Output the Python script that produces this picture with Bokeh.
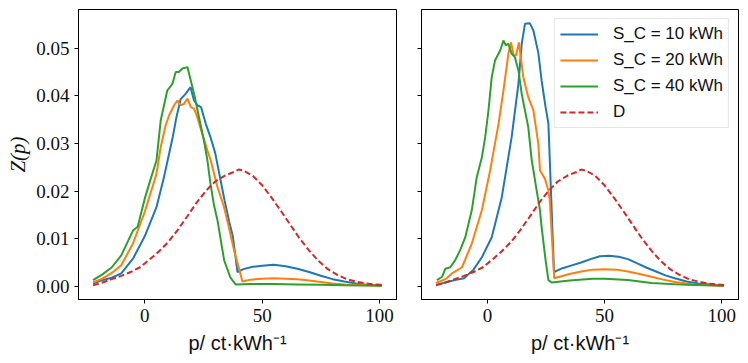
from bokeh.plotting import figure
from bokeh.layouts import row
from bokeh.models import (Range1d, FixedTicker, PrintfTickFormatter,
                          CustomJSTickFormatter, Legend, LegendItem)
from bokeh.embed import file_html
from bokeh.resources import INLINE

# ---------------- data ----------------
series_labels = ["S_C = 10 kWh", "S_C = 20 kWh", "S_C = 40 kWh", "D"]
x_ticks = [0, 50, 100]
y_ticks = [0.0, 0.01, 0.02, 0.03, 0.04, 0.05]

# reference distribution D (same in both panels)
d_x = [-22, -18, -14, -10, -6, -2, 2, 6, 10, 14, 18, 22, 26, 30, 34, 38, 40,
       42, 46, 50, 54, 58, 62, 66, 70, 74, 78, 82, 86, 90, 94, 98, 101]
d_y = [0.0002, 0.0008, 0.0015, 0.0022, 0.0030, 0.0040, 0.0056, 0.0073, 0.0093,
       0.0118, 0.0146, 0.0175, 0.0200, 0.0220, 0.0232, 0.0240, 0.0245, 0.0243,
       0.0232, 0.0212, 0.0186, 0.0158, 0.0129, 0.0100, 0.0075, 0.0053, 0.0036,
       0.0024, 0.0015, 0.0010, 0.0006, 0.0004, 0.0003]

# left panel
left10_x = [-22, -18, -14, -10, -5, 0, 5, 8, 10, 12, 13.5, 15.3, 17.4, 19.5, 21,
            22.5, 24, 26, 28, 30, 32, 34, 36, 37.5, 39.5, 42, 46, 50, 55, 60, 65,
            70, 75, 80, 85, 90, 95, 101]
left10_y = [0.0006, 0.0013, 0.0018, 0.0027, 0.0058, 0.0105, 0.0166, 0.0225,
            0.0270, 0.0315, 0.0355, 0.0393, 0.0404, 0.0418, 0.0390, 0.0380,
            0.0376, 0.0341, 0.0313, 0.0280, 0.0230, 0.0180, 0.0135, 0.0105,
            0.0030, 0.0036, 0.0041, 0.0043, 0.0045, 0.0042, 0.0037, 0.0030,
            0.0022, 0.0015, 0.0010, 0.0006, 0.0003, 0.0002]

left20_x = [-22, -18, -14, -10, -5, 0, 5, 6.8, 8.9, 10.4, 12.5, 13.9, 15.3, 16.7,
            18.2, 19.6, 21, 22.4, 24.5, 26.7, 28.1, 31, 33.8, 36, 38, 41.6, 45,
            50, 55, 60, 65, 70, 75, 80, 85, 90, 95, 101]
left20_y = [0.0008, 0.0016, 0.0028, 0.0044, 0.0090, 0.0156, 0.0236, 0.0292,
            0.0338, 0.0359, 0.0380, 0.0390, 0.0380, 0.0383, 0.0394, 0.0376,
            0.0373, 0.0355, 0.0320, 0.0285, 0.0264, 0.0208, 0.0166, 0.0120,
            0.0076, 0.0010, 0.0014, 0.0016, 0.0017, 0.0016, 0.0015, 0.0012,
            0.0009, 0.0006, 0.0004, 0.0003, 0.0002, 0.0001]

left40_x = [-22, -18, -14, -10, -5, -3, 0, 2.5, 5, 6.8, 9.6, 11.8, 13.2, 14.5,
            16, 18.2, 19.6, 21, 23.1, 25.2, 26.7, 28, 29.5, 31, 33.8, 36.5, 38.7,
            45, 55, 65, 75, 85, 101]
left40_y = [0.0013, 0.0025, 0.0040, 0.0065, 0.0117, 0.0125, 0.0184, 0.0225,
            0.0264, 0.0348, 0.0411, 0.0425, 0.0450, 0.0450, 0.0457, 0.0460,
            0.0432, 0.0404, 0.0355, 0.0306, 0.0264, 0.0215, 0.0170, 0.0138,
            0.0055, 0.0018, 0.0004, 0.0005, 0.0005, 0.0004, 0.0003, 0.0002,
            0.0001]

# right panel
right10_x = [-22, -18, -14, -10, -6, -2.4, 1.8, 6.1, 10.3, 13.2, 14.6, 16, 18.1,
             19.6, 21.7, 23.1, 24.8, 26, 28.4, 32, 36, 40, 44, 48, 52, 56, 60,
             64, 68, 72, 76, 80, 85, 90, 95, 101]
right10_y = [0.0003, 0.0008, 0.0013, 0.0017, 0.0035, 0.0061, 0.0103, 0.0187,
             0.0313, 0.0425, 0.0509, 0.0551, 0.0552, 0.0537, 0.0490, 0.0432,
             0.0376, 0.0342, 0.0030, 0.0038, 0.0044, 0.0050, 0.0057, 0.0063,
             0.0064, 0.0062, 0.0057, 0.0048, 0.0039, 0.0031, 0.0023, 0.0017,
             0.0010, 0.0006, 0.0004, 0.0001]

right20_x = [-22, -18, -15.2, -10.9, -6.7, -2.4, 1.1, 4.7, 6.8, 8.9, 10, 11.2,
             12.2, 13.4, 15.3, 17.4, 19.6, 21.7, 22.4, 24.5, 26, 26.6, 28.5, 35,
             40, 45, 50, 55, 60, 65, 70, 75, 80, 85, 90, 95, 101]
right20_y = [0.0007, 0.0015, 0.0027, 0.0040, 0.0090, 0.0160, 0.0243, 0.0341,
             0.0411, 0.0488, 0.0512, 0.0485, 0.0485, 0.0512, 0.0439, 0.0397,
             0.0369, 0.0299, 0.0243, 0.0226, 0.0201, 0.0180, 0.0017, 0.0026,
             0.0031, 0.0035, 0.0036, 0.0035, 0.0031, 0.0026, 0.0020, 0.0014,
             0.0009, 0.0006, 0.0003, 0.0002, 0.0001]

right40_x = [-21.6, -19.4, -18, -15.9, -13.8, -11.7, -9.5, -6.7, -4.6, -2.4, -1,
             0.4, 1.8, 3.2, 5.4, 6.8, 7.8, 8.9, 10.3, 11.7, 13.2, 14.6, 16, 17.4,
             18.9, 21, 22.4, 23.1, 24.8, 26, 27.4, 35, 45, 50, 60, 70, 85, 101]
right40_y = [0.0013, 0.0020, 0.0037, 0.0040, 0.0055, 0.0076, 0.0103, 0.0160,
             0.0229, 0.0271, 0.0313, 0.0369, 0.0439, 0.0474, 0.0495, 0.0516,
             0.0506, 0.0509, 0.0488, 0.0481, 0.0453, 0.0404, 0.0369, 0.0334,
             0.0264, 0.0201, 0.0160, 0.0124, 0.0055, 0.0013, 0.0008, 0.0012,
             0.0016, 0.0016, 0.0013, 0.0007, 0.0003, 0.0001]

colors = ["#1f77b4", "#ff7f0e", "#2ca02c", "#d62728"]

SERIF = "Liberation Serif"
SANS = "Liberation Sans"
TEXT = "#111111"


def style(p):
    p.outline_line_color = "black"
    p.outline_line_width = 1
    p.outline_line_alpha = 1
    p.grid.visible = False
    p.background_fill_color = "white"
    p.border_fill_color = "white"
    for ax in (p.xaxis[0], p.yaxis[0]):
        ax.axis_line_color = "black"
        ax.axis_line_width = 1
        ax.major_tick_line_color = "black"
        ax.major_tick_out = 4
        ax.major_tick_in = 0
        ax.minor_tick_out = 0
        ax.minor_tick_in = 0
        ax.major_label_text_font = SERIF
        ax.major_label_text_font_size = "19px"
        ax.major_label_text_color = TEXT
        ax.major_label_standoff = 5
    p.xaxis[0].ticker = FixedTicker(ticks=x_ticks)
    p.yaxis[0].ticker = FixedTicker(ticks=y_ticks)
    p.xaxis[0].axis_label = "p/ ct\u00b7kWh\u207b\u00b9"
    p.xaxis[0].axis_label_text_font = SANS
    p.xaxis[0].axis_label_text_font_style = "normal"
    p.xaxis[0].axis_label_text_font_size = "20px"
    p.xaxis[0].axis_label_text_color = TEXT
    p.xaxis[0].axis_label_standoff = 7


y_shared = Range1d(-0.00277, 0.0581)

p1 = figure(frame_width=318, frame_height=290, output_backend="svg",
            toolbar_location=None, x_range=Range1d(-28.2, 107.2),
            y_range=y_shared,
            min_border_left=78, min_border_right=10, min_border_top=9,
            min_border_bottom=60)
p2 = figure(frame_width=317, frame_height=290, output_backend="svg",
            toolbar_location=None, x_range=Range1d(-28.2, 107.2),
            y_range=y_shared, min_border_left=15, min_border_right=2,
            min_border_top=9, min_border_bottom=60)

style(p1)
style(p2)
p1.yaxis[0].formatter = PrintfTickFormatter(format="%.2f")
p1.yaxis[0].axis_label = "Z(p)"
p1.yaxis[0].axis_label_text_font = SERIF
p1.yaxis[0].axis_label_text_font_style = "italic"
p1.yaxis[0].axis_label_text_font_size = "21px"
p1.yaxis[0].axis_label_text_color = TEXT
p1.yaxis[0].axis_label_standoff = 3
p2.yaxis[0].formatter = CustomJSTickFormatter(code="return ''")
p2.yaxis[0].major_label_standoff = 0

panels = [
    (p1, [(left10_x, left10_y), (left20_x, left20_y), (left40_x, left40_y)]),
    (p2, [(right10_x, right10_y), (right20_x, right20_y), (right40_x, right40_y)]),
]

legend_renderers = None
for p, sers in panels:
    rs = []
    for (xs, ys), c in zip(sers, colors[:3]):
        rs.append(p.line(xs, ys, line_color=c, line_width=2))
    rs.append(p.line(d_x, d_y, line_color=colors[3], line_width=2,
                     line_dash="6 3"))
    legend_renderers = rs

legend = Legend(items=[LegendItem(label=lab, renderers=[r])
                       for lab, r in zip(series_labels, legend_renderers)],
                location="top_right")
legend.margin = 9
legend.padding = 5
legend.spacing = 6
legend.glyph_width = 38
legend.glyph_height = 20
legend.label_height = 20
legend.label_standoff = 15
legend.label_text_font = SANS
legend.label_text_font_size = "17px"
legend.label_text_color = TEXT
legend.border_line_color = "#cccccc"
legend.border_line_width = 1
legend.background_fill_alpha = 0.8
p2.add_layout(legend)

layout = row(p1, p2)
open("out.html", "w").write(file_html(layout, INLINE))
